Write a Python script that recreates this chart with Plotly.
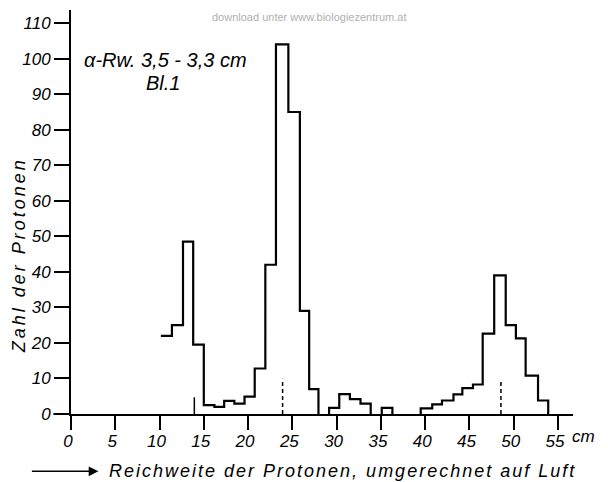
import plotly.graph_objects as go

# Histogram bin edges (cm, air-equivalent) and counts, by separate group
edges_a = [10.15, 11.4, 12.65, 13.8, 15.0, 16.2, 17.3, 18.45, 19.6, 20.75, 21.95, 23.15, 24.55, 25.85, 26.9, 27.95]
counts_a = [22, 25, 48.5, 19.5, 2.5, 2, 3.7, 2.9, 4.9, 12.8, 42, 104, 85, 29, 7]

edges_b = [29.15, 30.3, 31.5, 32.7, 33.85]
counts_b = [1.7, 5.6, 4.2, 2.9]

edges_c = [35.1, 36.3]
counts_c = [1.7]

edges_d = [39.5, 40.8, 41.9, 43.2, 44.2, 45.4, 46.5, 47.8, 49.1, 50.25, 51.35, 52.75, 53.9]
counts_d = [1.6, 2.7, 3.8, 5.5, 7.3, 8.3, 22.6, 39, 25, 21.3, 10.8, 3.8]

# Marker lines (position, height)
solid_marks_x = [13.93]
solid_marks_h = [4.7]
dashed_marks_x = [23.9, 48.56]
dashed_marks_h = [9.9, 9.6]

x_ticks = [0, 5, 10, 15, 20, 25, 30, 35, 40, 45, 50, 55]
y_ticks = [0, 10, 20, 30, 40, 50, 60, 70, 80, 90, 100, 110]

FONT = "Liberation Sans"


def step_group(edges, counts, from_zero):
    xs, ys = [], []
    if from_zero:
        xs.append(edges[0]); ys.append(0)
    xs += list(edges)
    ys += list(counts) + [0]
    return xs, ys


fig = go.Figure()
for e, c, z in [(edges_a, counts_a, False), (edges_b, counts_b, True),
                (edges_c, counts_c, True), (edges_d, counts_d, True)]:
    xs, ys = step_group(e, c, z)
    fig.add_trace(go.Scatter(x=xs, y=ys, mode="lines", line=dict(color="black", width=2.2, shape="hv"),
                             hoverinfo="skip", showlegend=False, cliponaxis=False))

for mx, mh in zip(solid_marks_x, solid_marks_h):
    fig.add_trace(go.Scatter(x=[mx, mx], y=[0, mh], mode="lines", line=dict(color="black", width=1.5),
                             hoverinfo="skip", showlegend=False))
for mx, mh in zip(dashed_marks_x, dashed_marks_h):
    fig.add_trace(go.Scatter(x=[mx, mx], y=[0, mh], mode="lines",
                             line=dict(color="black", width=1.5, dash="4px,3px"),
                             hoverinfo="skip", showlegend=False))

# page body has an 8px margin, so the figure is offset by (8, 8) on the page
fig.update_layout(
    width=608, height=482,
    margin=dict(l=62.6, r=43, t=2, b=75.7),
    paper_bgcolor="white", plot_bgcolor="white",
    font=dict(family=FONT, color="black"),
    xaxis=dict(range=[0, 56.7], tickvals=x_ticks, ticktext=[str(v) for v in x_ticks],
               showline=True, linecolor="black", linewidth=2, ticks="outside", ticklen=14,
               tickwidth=1.5, tickcolor="black", showgrid=False, zeroline=False,
               ticklabelshift=-3, ticklabelstandoff=-3,
               tickfont=dict(size=17, style="italic", family=FONT)),
    yaxis=dict(range=[0, 113.7], tickvals=y_ticks, ticktext=[str(v) for v in y_ticks],
               showline=True, linecolor="black", linewidth=2, ticks="outside", ticklen=15,
               tickwidth=1.5, tickcolor="black", showgrid=False, zeroline=False,
               tickfont=dict(size=17, style="italic", family=FONT)),
)

# extend x-axis baseline a little to the left of the y-axis
fig.add_shape(type="line", xref="paper", yref="paper", x0=-0.035, x1=0, y0=0, y1=0,
              line=dict(color="black", width=2))

fig.add_annotation(x=1.02, y=-0.056, xref="paper", yref="paper", text="cm", showarrow=False,
                   font=dict(size=17, style="italic", family=FONT), xanchor="center", yanchor="middle")

fig.add_annotation(x=0.0725, y=-0.142, xref="paper", yref="paper",
                   text='<span style="letter-spacing:2px">Reichweite der Protonen, umgerechnet auf Luft</span>',
                   showarrow=False,
                   font=dict(size=18, style="italic", family=FONT), xanchor="left", yanchor="middle")
fig.add_annotation(x=0.0546, y=-0.142, xref="paper", yref="paper", text="", showarrow=True,
                   ax=-68, ay=0, arrowhead=2, arrowsize=1.3, arrowwidth=1.5, arrowcolor="black")

fig.add_annotation(x=-0.1047, y=0.394, xref="paper", yref="paper",
                   text='<span style="letter-spacing:3px">Zahl der Protonen</span>',
                   textangle=-90, showarrow=False,
                   font=dict(size=18, style="italic", family=FONT), xanchor="center", yanchor="middle")

fig.add_annotation(x=0.188, y=0.876, xref="paper", yref="paper", text="α-Rw. 3,5 - 3,3 cm",
                   showarrow=False, font=dict(size=20, style="italic", family=FONT),
                   xanchor="center", yanchor="middle")
fig.add_annotation(x=0.183, y=0.819, xref="paper", yref="paper", text="Bl.1",
                   showarrow=False, font=dict(size=20, style="italic", family=FONT),
                   xanchor="center", yanchor="middle")

fig.add_annotation(x=0.4745, y=0.983, xref="paper", yref="paper",
                   text="download unter www.biologiezentrum.at", showarrow=False,
                   font=dict(size=11, color="#b0b0b0", family=FONT), xanchor="center", yanchor="middle")

fig.write_html("out.html")
